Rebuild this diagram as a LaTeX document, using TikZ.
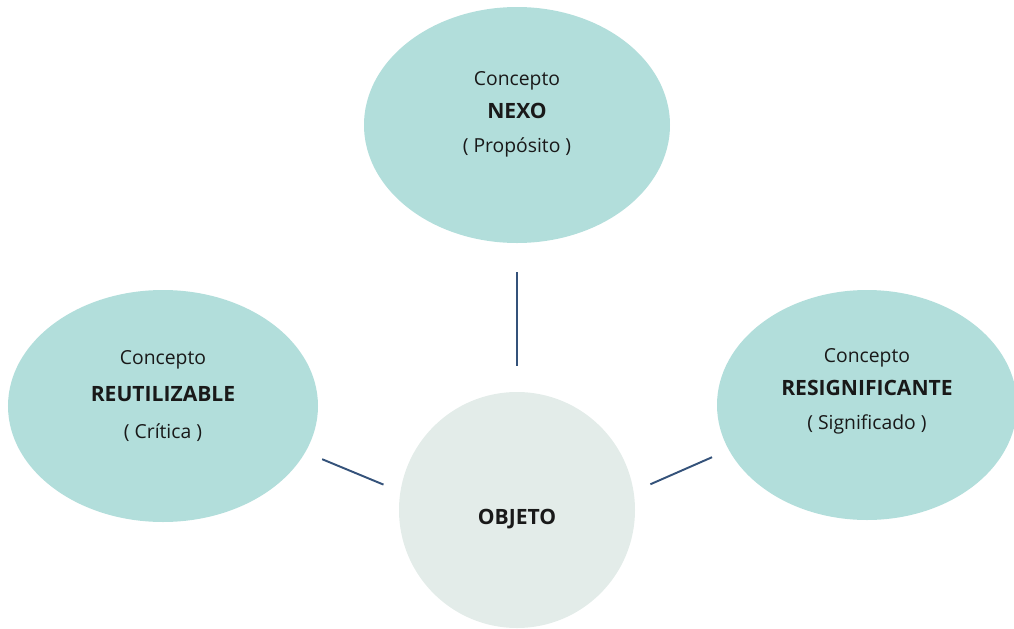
\documentclass[tikz,border=0pt]{standalone}
\usepackage{fontspec}
\setmainfont{Open Sans}
\usepackage{tikz}
\usepackage{xcolor}
\usetikzlibrary{shapes.geometric}
\definecolor{conceptfill}{RGB}{178,222,219}
\definecolor{objectfill}{RGB}{227,236,233}
\definecolor{linkline}{RGB}{52,82,122}
\newcommand{\keyword}[1]{{\fontsize{12}{19}\selectfont\textbf{#1}}}

\begin{document}
\begin{tikzpicture}[font=\fontsize{11}{19}\selectfont,
    concept/.style={ellipse,fill=conceptfill,inner sep=0pt},
    label text/.style={align=center,text=black!90},
    link/.style={draw=linkline,line width=1.1pt}]
    \useasboundingbox (0,0) rectangle (20.28,-12.58);
    \node[concept,minimum width=6.12cm,minimum height=4.72cm] (nexo) at (10.34,-2.50) {};
    \node[concept,minimum width=6.2cm,minimum height=4.64cm] (reut) at (3.26,-8.12) {};
    \node[concept,minimum width=6.0cm,minimum height=4.6cm] (resig) at (17.34,-8.10) {};
    \node[circle,fill=objectfill,minimum size=4.72cm,inner sep=0pt] (obj) at (10.34,-10.20) {};
    \node[label text] (nexot) at ([yshift=0.22cm]nexo) {Concepto\\\keyword{NEXO}\\( Propósito )};
    \node[label text] (reutt) at ([yshift=0.2cm]reut) {Concepto\\[2pt]\keyword{REUTILIZABLE}\\[2pt]( Crítica )};
    \node[label text] (resigt) at ([yshift=0.28cm]resig) {Concepto\\\keyword{RESIGNIFICANTE}\\( Significado )};
    \node[label text] (objt) at ([yshift=-0.18cm]obj) {\keyword{OBJETO}};
    \draw[link,shorten <=0.58cm,shorten >=0.52cm] (nexo.south) -- (obj.north);
    \draw[link,shorten <=0.36cm,shorten >=0.36cm] (reut.-18) -- (obj.171);
    \draw[link,shorten <=0.36cm,shorten >=0.36cm] (resig.-162) -- (obj.9);
  \end{tikzpicture}
\end{document}
